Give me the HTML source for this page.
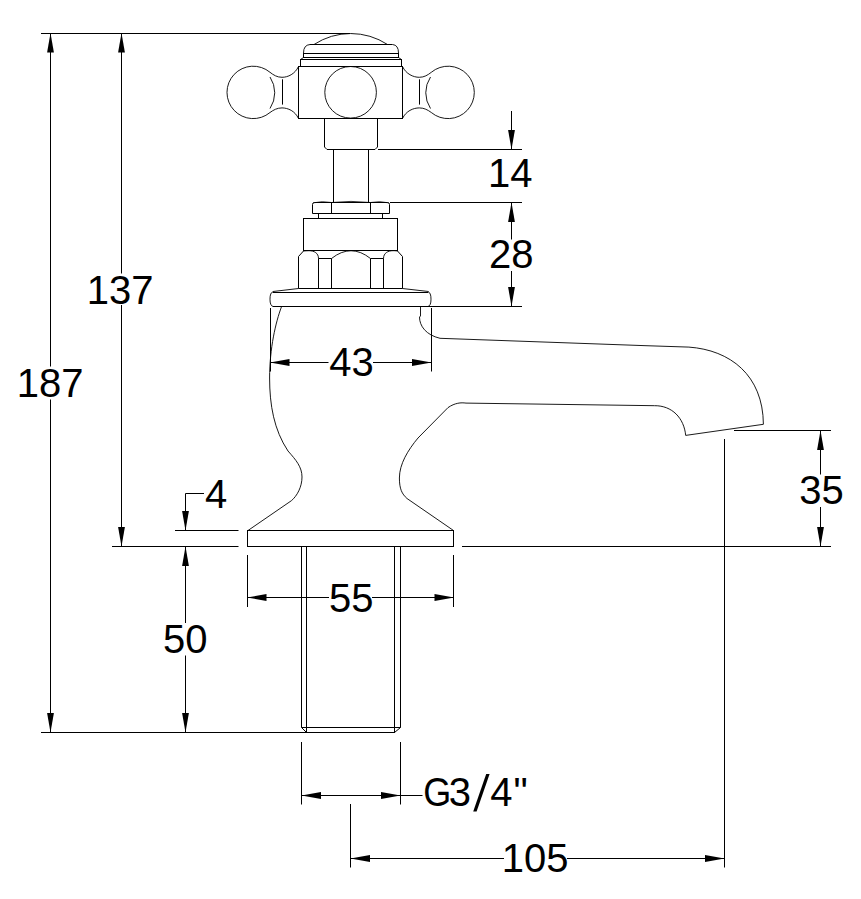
<!DOCTYPE html>
<html><head><meta charset="utf-8"><style>
html,body{margin:0;padding:0;background:#fff;width:861px;height:899px;overflow:hidden}
svg{display:block}
text{font-family:"Liberation Sans",sans-serif;fill:#000}
</style></head><body>
<svg width="861" height="899" viewBox="0 0 861 899">
<rect width="861" height="899" fill="#fff"/>
<g stroke-linecap="butt">
<line x1="41" y1="33.5" x2="350" y2="33.5" stroke="#000" stroke-width="1.0"/>
<line x1="50.5" y1="33" x2="50.5" y2="366.5" stroke="#000" stroke-width="1.0"/>
<line x1="50.5" y1="399.5" x2="50.5" y2="732.5" stroke="#000" stroke-width="1.0"/>
<polygon points="50.50,33.00 47.10,52.50 53.90,52.50" fill="#000"/>
<polygon points="50.50,732.50 47.10,713.00 53.90,713.00" fill="#000"/>
<line x1="121.5" y1="33" x2="121.5" y2="273.5" stroke="#000" stroke-width="1.0"/>
<line x1="121.5" y1="305" x2="121.5" y2="546.5" stroke="#000" stroke-width="1.0"/>
<polygon points="121.50,33.00 118.10,52.50 124.90,52.50" fill="#000"/>
<polygon points="121.50,546.50 118.10,527.00 124.90,527.00" fill="#000"/>
<line x1="112" y1="546.5" x2="238.5" y2="546.5" stroke="#000" stroke-width="1.0"/>
<line x1="462" y1="546.5" x2="831" y2="546.5" stroke="#000" stroke-width="1.0"/>
<line x1="41" y1="732.5" x2="306" y2="732.5" stroke="#000" stroke-width="1.0"/>
<line x1="175" y1="530.5" x2="238.5" y2="530.5" stroke="#000" stroke-width="1.0"/>
<path d="M185.5 530 V493.5 H204" stroke="#000" stroke-width="1.0" fill="none"/>
<polygon points="185.50,530.50 182.10,511.00 188.90,511.00" fill="#000"/>
<line x1="185.5" y1="546.5" x2="185.5" y2="623" stroke="#000" stroke-width="1.0"/>
<line x1="185.5" y1="655.5" x2="185.5" y2="732.5" stroke="#000" stroke-width="1.0"/>
<polygon points="185.50,546.50 182.10,566.00 188.90,566.00" fill="#000"/>
<polygon points="185.50,732.50 182.10,713.00 188.90,713.00" fill="#000"/>
<line x1="247.5" y1="555" x2="247.5" y2="607" stroke="#000" stroke-width="1.0"/>
<line x1="453.5" y1="555" x2="453.5" y2="607" stroke="#000" stroke-width="1.0"/>
<line x1="247.5" y1="597.5" x2="329" y2="597.5" stroke="#000" stroke-width="1.0"/>
<line x1="372" y1="597.5" x2="453.5" y2="597.5" stroke="#000" stroke-width="1.0"/>
<polygon points="247.00,597.50 266.50,594.10 266.50,600.90" fill="#000"/>
<polygon points="454.00,597.50 434.50,594.10 434.50,600.90" fill="#000"/>
<line x1="270.5" y1="308" x2="270.5" y2="371.5" stroke="#000" stroke-width="1.0"/>
<line x1="431.5" y1="308" x2="431.5" y2="371.5" stroke="#000" stroke-width="1.0"/>
<line x1="270" y1="362.5" x2="328.5" y2="362.5" stroke="#000" stroke-width="1.0"/>
<line x1="373" y1="362.5" x2="431" y2="362.5" stroke="#000" stroke-width="1.0"/>
<polygon points="270.00,362.50 289.50,359.10 289.50,365.90" fill="#000"/>
<polygon points="431.50,362.50 412.00,359.10 412.00,365.90" fill="#000"/>
<line x1="378" y1="149.5" x2="522" y2="149.5" stroke="#000" stroke-width="1.0"/>
<line x1="390" y1="202.5" x2="522" y2="202.5" stroke="#000" stroke-width="1.0"/>
<line x1="431" y1="306.5" x2="522" y2="306.5" stroke="#000" stroke-width="1.0"/>
<line x1="511.5" y1="111" x2="511.5" y2="149.5" stroke="#000" stroke-width="1.0"/>
<polygon points="511.50,149.50 508.10,130.00 514.90,130.00" fill="#000"/>
<line x1="511.5" y1="202.5" x2="511.5" y2="239.5" stroke="#000" stroke-width="1.0"/>
<line x1="511.5" y1="271" x2="511.5" y2="306.5" stroke="#000" stroke-width="1.0"/>
<polygon points="511.50,202.50 508.10,222.00 514.90,222.00" fill="#000"/>
<polygon points="511.50,306.50 508.10,287.00 514.90,287.00" fill="#000"/>
<line x1="734" y1="430.5" x2="831" y2="430.5" stroke="#000" stroke-width="1.0"/>
<line x1="820.5" y1="430.5" x2="820.5" y2="474.5" stroke="#000" stroke-width="1.0"/>
<line x1="820.5" y1="507" x2="820.5" y2="546.5" stroke="#000" stroke-width="1.0"/>
<polygon points="820.50,430.50 817.10,450.00 823.90,450.00" fill="#000"/>
<polygon points="820.50,546.50 817.10,527.00 823.90,527.00" fill="#000"/>
<line x1="301.5" y1="742" x2="301.5" y2="804.5" stroke="#000" stroke-width="1.0"/>
<line x1="400.5" y1="742" x2="400.5" y2="804.5" stroke="#000" stroke-width="1.0"/>
<line x1="301.5" y1="795.5" x2="422.5" y2="795.5" stroke="#000" stroke-width="1.0"/>
<polygon points="301.50,795.50 321.00,792.10 321.00,798.90" fill="#000"/>
<polygon points="400.50,795.50 381.00,792.10 381.00,798.90" fill="#000"/>
<line x1="350.5" y1="804" x2="350.5" y2="867.5" stroke="#000" stroke-width="1.0"/>
<line x1="724.5" y1="439" x2="724.5" y2="867.5" stroke="#000" stroke-width="1.0"/>
<line x1="350.5" y1="858.5" x2="504" y2="858.5" stroke="#000" stroke-width="1.0"/>
<line x1="567" y1="858.5" x2="724.5" y2="858.5" stroke="#000" stroke-width="1.0"/>
<polygon points="350.50,858.50 370.00,855.10 370.00,861.90" fill="#000"/>
<polygon points="724.50,858.50 705.00,855.10 705.00,861.90" fill="#000"/>
<path d="M314 44.5 A67 67 0 0 1 387.5 44.5" stroke="#000" stroke-width="0.9" fill="none"/>
<line x1="310" y1="44.5" x2="392.5" y2="44.5" stroke="#000" stroke-width="1.0"/>
<path d="M310 44.5 Q303.5 45 303.5 53" stroke="#000" stroke-width="0.9" fill="none"/>
<path d="M392.5 44.5 Q398.5 45 398.5 53" stroke="#000" stroke-width="0.9" fill="none"/>
<rect x="303.5" y="53.5" width="95" height="4" fill="none" stroke="#000" stroke-width="1"/>
<path d="M303.5 57.5 L300.5 59.5" stroke="#000" stroke-width="0.9" fill="none"/>
<path d="M398.5 57.5 L401.5 59.5" stroke="#000" stroke-width="0.9" fill="none"/>
<rect x="300.5" y="59.5" width="101" height="7" fill="none" stroke="#000" stroke-width="1"/>
<rect x="298.5" y="66.5" width="104" height="52" fill="none" stroke="#000" stroke-width="1"/>
<circle cx="350.6" cy="92.3" r="25.8" fill="none" stroke="#000" stroke-width="0.9"/>
<path d="M298.5 66.5 C295 74, 288 77.3, 282 77.3 C277 77.3, 273.5 75, 270 72.3 A26.2 26.2 0 1 0 270 112.5 C273.5 110, 277 107.9, 282 107.9 C288 107.9, 295 111, 298.5 118.5" stroke="#000" stroke-width="0.9" fill="none"/>
<path d="M270 77 A28.5 28.5 0 0 1 270 108.5" stroke="#000" stroke-width="0.9" fill="none"/>
<line x1="282.5" y1="79.3" x2="282.5" y2="104.6" stroke="#000" stroke-width="1.0"/>
<path d="M402.5 66.5 C406.0 74, 413.3 77.3, 419.3 77.3 C424.3 77.3, 427.8 75, 431.3 72.3 A26.2 26.2 0 1 1 431.3 112.5 C427.8 110, 424.3 107.9, 419.3 107.9 C413.3 107.9, 406.0 111, 402.5 118.5" stroke="#000" stroke-width="0.9" fill="none"/>
<path d="M430.5 77 A28.5 28.5 0 0 0 430.5 108.5" stroke="#000" stroke-width="0.9" fill="none"/>
<line x1="419.5" y1="79.3" x2="419.5" y2="104.6" stroke="#000" stroke-width="1.0"/>
<path d="M324.5 118.5 V147 L327 149.5 H375 L377.5 147 V118.5" stroke="#000" stroke-width="1.0" fill="none"/>
<line x1="333.5" y1="149.5" x2="333.5" y2="202.5" stroke="#000" stroke-width="1.0"/>
<line x1="368.5" y1="149.5" x2="368.5" y2="202.5" stroke="#000" stroke-width="1.0"/>
<path d="M312.5 213.5 V204.5 Q312.5 202.5 314.5 202.5 H387.5 Q389.5 202.5 389.5 204.5 V213.5 Z" stroke="#000" stroke-width="1.0" fill="none"/>
<path d="M313.5 202.8 Q322 200.8 331.5 202.5" stroke="#000" stroke-width="0.8" fill="none"/>
<path d="M331.5 202.5 Q351 200.3 370.5 202.5" stroke="#000" stroke-width="0.8" fill="none"/>
<path d="M370.5 202.5 Q380 200.8 388.5 202.8" stroke="#000" stroke-width="0.8" fill="none"/>
<line x1="331.5" y1="202.5" x2="331.5" y2="213.5" stroke="#000" stroke-width="1.0"/>
<line x1="370.5" y1="202.5" x2="370.5" y2="213.5" stroke="#000" stroke-width="1.0"/>
<line x1="318.5" y1="213.5" x2="318.5" y2="218.5" stroke="#000" stroke-width="1.0"/>
<line x1="382.5" y1="213.5" x2="382.5" y2="218.5" stroke="#000" stroke-width="1.0"/>
<rect x="303.5" y="218.5" width="94" height="32" fill="none" stroke="#000" stroke-width="1"/>
<path d="M298.5 288.5 V256.5 L303.5 251" stroke="#000" stroke-width="1.0" fill="none"/>
<path d="M402.5 288.5 V256.5 L397.5 251" stroke="#000" stroke-width="1.0" fill="none"/>
<line x1="298.5" y1="288.5" x2="402.5" y2="288.5" stroke="#000" stroke-width="1.0"/>
<path d="M318.5 258.5 C318.5 253, 314 250.7, 309 250.7 C307 250.7, 305 250.9, 303.5 251" stroke="#000" stroke-width="0.9" fill="none"/>
<path d="M383.5 258.5 C383.5 253, 388 250.7, 393 250.7 C395 250.7, 396.5 250.9, 397.5 251" stroke="#000" stroke-width="0.9" fill="none"/>
<path d="M331.5 258.5 Q351 243 370.5 258.5" stroke="#000" stroke-width="0.9" fill="none"/>
<path d="M318.5 288.5 V258.5 H331.5 V288.5" stroke="#000" stroke-width="1.0" fill="none"/>
<path d="M370.5 288.5 V258.5 H383.5 V288.5" stroke="#000" stroke-width="1.0" fill="none"/>
<path d="M298.5 288.5 L273 291.5" stroke="#000" stroke-width="0.9" fill="none"/>
<path d="M402.5 288.5 L428.5 291.5" stroke="#000" stroke-width="0.9" fill="none"/>
<line x1="273" y1="292.5" x2="428" y2="292.5" stroke="#000" stroke-width="1.0"/>
<line x1="273" y1="306.5" x2="431" y2="306.5" stroke="#000" stroke-width="1.0"/>
<path d="M273 291.8 A3.4 7.4 0 0 0 273 306.5" stroke="#000" stroke-width="0.9" fill="none"/>
<path d="M428 291.8 A3.4 7.4 0 0 1 428 306.5" stroke="#000" stroke-width="0.9" fill="none"/>
<path d="M281.4 307 C275.8 322, 269.6 348, 269.6 378 C269.6 405, 274 430, 288 451 C296 460, 302 467, 302 477 C302 487, 297 496, 291.4 500.7 L248 530.5" stroke="#000" stroke-width="0.9" fill="none"/>
<path d="M420.5 306.5 V316 L419.5 317 C419.5 326, 426 335, 440 338.3 L646 345.7 L688.9 347.1 C730 350, 763 375, 763.4 424.3 L685.7 435.4 C684 418, 672 405.5, 654.6 405.7 L466 403.1 C461 402.4, 455 402.8, 448 407.6 L418 438 C408 450, 399.4 464, 399.4 478 C399.4 489, 402 494, 407 498.5 L453.5 530.5" stroke="#000" stroke-width="0.9" fill="none"/>
<rect x="247.5" y="530.5" width="206" height="16" fill="none" stroke="#000" stroke-width="1"/>
<line x1="301.5" y1="546.5" x2="301.5" y2="727.5" stroke="#000" stroke-width="1.0"/>
<line x1="400.5" y1="546.5" x2="400.5" y2="727.5" stroke="#000" stroke-width="1.0"/>
<line x1="306.5" y1="546.5" x2="306.5" y2="732.5" stroke="#000" stroke-width="1.0"/>
<line x1="394.5" y1="546.5" x2="394.5" y2="732.5" stroke="#000" stroke-width="1.0"/>
<line x1="301.5" y1="727.5" x2="400.5" y2="727.5" stroke="#000" stroke-width="1.0"/>
<line x1="306" y1="732.5" x2="395" y2="732.5" stroke="#000" stroke-width="1.0"/>
<line x1="301.5" y1="727.5" x2="306.5" y2="732.5" stroke="#000" stroke-width="1.0"/>
<line x1="400.5" y1="727.5" x2="394.5" y2="732.5" stroke="#000" stroke-width="1.0"/>
<polygon points="486.2,774.1 489.6,774.1 476.6,811.6 473.2,811.6" fill="#000"/>
</g>
<g>
<text x="16.8" y="397" font-size="40" text-anchor="start">187</text>
<text x="86.8" y="304.3" font-size="40" text-anchor="start">137</text>
<text x="487.90000000000003" y="186.9" font-size="40" text-anchor="start">14</text>
<text x="489.1" y="267.9" font-size="40" text-anchor="start">28</text>
<text x="329.2" y="376" font-size="40" text-anchor="start">43</text>
<text x="799.1999999999999" y="503.7" font-size="40" text-anchor="start">35</text>
<text x="204.89999999999998" y="508" font-size="40" text-anchor="start">4</text>
<text x="329.09999999999997" y="611.5" font-size="40" text-anchor="start">55</text>
<text x="163.1" y="653" font-size="40" text-anchor="start">50</text>
<text transform="translate(423.2 805.5) scale(0.9 1)" font-size="40">G</text>
<text x="448.8" y="805.5" font-size="40" text-anchor="start">3</text>
<text x="490.2" y="805.5" font-size="40" text-anchor="start">4</text>
<text x="513.6" y="805.5" font-size="40" text-anchor="start">&quot;</text>
<text x="501.8" y="871.5" font-size="40" text-anchor="start">105</text>
</g>
</svg>
</body></html>
